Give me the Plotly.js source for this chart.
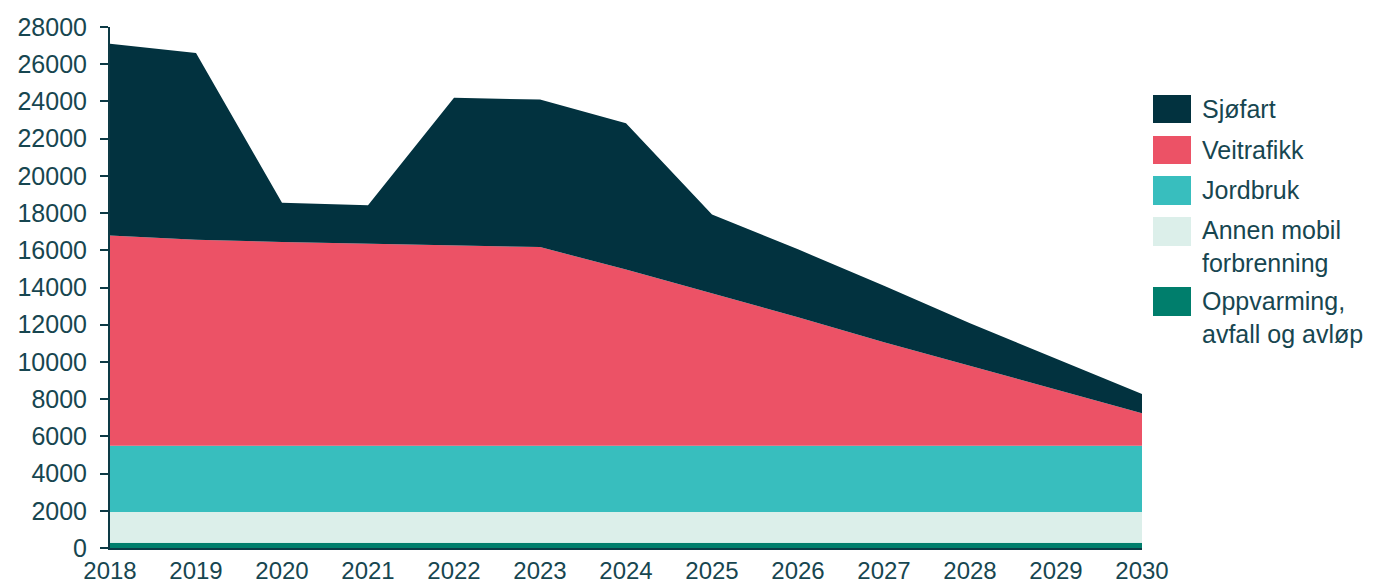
<!DOCTYPE html>
<html>
<head>
<meta charset="utf-8">
<script src="https://cdn.plot.ly/plotly-3.0.1.min.js"></script>
<style>
  html, body { margin: 0; padding: 0; background: #ffffff; }
  #chart { width: 1375px; height: 583px; }
</style>
</head>
<body>
<div id="chart"></div>
<script>
// Utslipp per kilde, 2018–2030 (stablet)
const years = [2018, 2019, 2020, 2021, 2022, 2023, 2024, 2025, 2026, 2027, 2028, 2029, 2030];

const oppvarming = [280, 280, 280, 280, 280, 280, 280, 280, 280, 280, 280, 280, 280];
const annenMobil = [1660, 1660, 1660, 1660, 1660, 1660, 1660, 1660, 1660, 1660, 1660, 1660, 1660];
const jordbruk   = [3560, 3560, 3560, 3560, 3560, 3560, 3560, 3560, 3560, 3560, 3560, 3560, 3560];
const veitrafikk = [11290, 11060, 10950, 10850, 10770, 10670, 9470, 8200, 6900, 5560, 4290, 3020, 1740];
const sjofart    = [10310, 10040, 2100, 2070, 7930, 7930, 7860, 4220, 3650, 3040, 2290, 1650, 1040];

const seriesNames  = ['Oppvarming,<br>avfall og avløp', 'Annen mobil<br>forbrenning', 'Jordbruk', 'Veitrafikk', 'Sjøfart'];
const seriesValues = [oppvarming, annenMobil, jordbruk, veitrafikk, sjofart];
const seriesColors = ['#007e6c', '#dcefea', '#38bebe', '#ec5266', '#02323f'];

const yTicks = [0, 2000, 4000, 6000, 8000, 10000, 12000, 14000, 16000, 18000, 20000, 22000, 24000, 26000, 28000];

const textColor = '#174650';
const axisColor = '#0d3a45';
const fontFamily = 'Liberation Sans, Arial, sans-serif';

const traces = seriesValues.map((vals, i) => ({
  x: years,
  y: vals,
  name: seriesNames[i],
  type: 'scatter',
  mode: 'lines',
  stackgroup: 'one',
  line: { width: 0, color: seriesColors[i] },
  fillcolor: seriesColors[i],
  hoverinfo: 'x+y+name'
}));

// Legend drawn as swatches + labels to the right of the plot
const L = 110, R = 1142, T = 27, B = 548;
const px = v => (v - L) / (R - L);
const py = v => (B - v) / (B - T);

const legendRows = [
  { idx: 4, top: 95,  bottom: 123, textY: 109 },
  { idx: 3, top: 136, bottom: 164, textY: 150 },
  { idx: 2, top: 176, bottom: 205, textY: 190 },
  { idx: 1, top: 217, bottom: 246, textY: 247 },
  { idx: 0, top: 287, bottom: 316, textY: 317 }
];

const shapes = legendRows.map(r => ({
  type: 'rect', xref: 'paper', yref: 'paper',
  x0: px(1153), x1: px(1191), y0: py(r.bottom), y1: py(r.top),
  fillcolor: seriesColors[r.idx], line: { width: 0 }
}));

const annotations = legendRows.map(r => ({
  xref: 'paper', yref: 'paper',
  x: px(1200), y: py(r.textY),
  xanchor: 'left', yanchor: 'middle', align: 'left',
  text: seriesNames[r.idx],
  showarrow: false,
  font: { family: fontFamily, size: 25, color: textColor }
}));

const layout = {
  width: 1375,
  height: 583,
  margin: { l: L, r: 1375 - R, t: T, b: 583 - B, pad: 0 },
  paper_bgcolor: '#ffffff',
  plot_bgcolor: '#ffffff',
  showlegend: false,
  font: { family: fontFamily, size: 24, color: textColor },
  xaxis: {
    range: [2018, 2030],
    tickmode: 'array',
    tickvals: years,
    ticktext: years.map(String),
    showgrid: false,
    zeroline: false,
    showline: true,
    linecolor: axisColor,
    linewidth: 2,
    ticks: '',
    ticklabelstandoff: 0,
    tickfont: { family: fontFamily, size: 24, color: textColor },
    fixedrange: true
  },
  yaxis: {
    range: [0, 28000],
    tickmode: 'array',
    tickvals: yTicks,
    ticktext: yTicks.map(String),
    showgrid: false,
    zeroline: false,
    showline: true,
    linecolor: axisColor,
    linewidth: 2,
    ticks: 'outside',
    ticklen: 8,
    tickwidth: 2,
    tickcolor: axisColor,
    ticklabelstandoff: 8,
    tickfont: { family: fontFamily, size: 25, color: textColor },
    fixedrange: true
  },
  shapes: shapes,
  annotations: annotations
};

Plotly.newPlot('chart', traces, layout, { displayModeBar: false, staticPlot: true });
</script>
</body>
</html>
